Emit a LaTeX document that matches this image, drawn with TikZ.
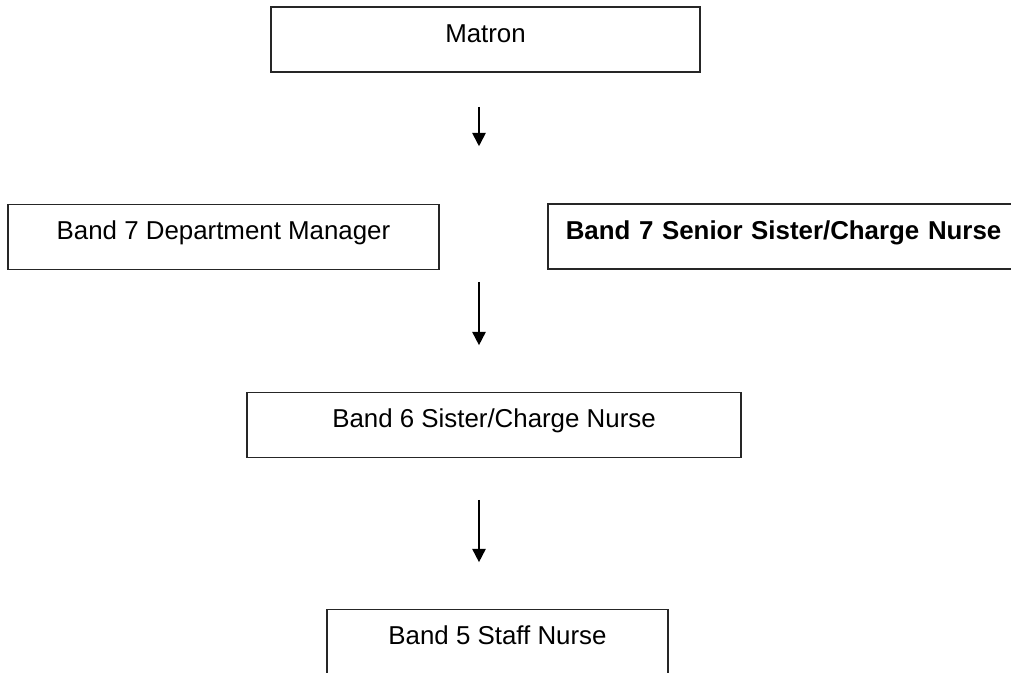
\documentclass[tikz,border=0pt]{standalone}
\usepackage{fontspec}
\setmainfont{Liberation Sans}
\usepackage{tikz}
\usetikzlibrary{arrows.meta}

\tikzset{
  post/.style={shape=rectangle,draw=black!85,line width=1.2pt,inner xsep=0pt,inner ysep=0pt,text height=26.25pt,text depth=22.5pt,font=\fontsize{19.4}{23}\selectfont},
  flow/.style={-{Triangle[length=10pt,width=10pt]},draw=black,line width=1.3pt}
}

\begin{document}
\begin{tikzpicture}[x=0.75pt,y=-0.75pt]
\useasboundingbox (0,0) rectangle (1011,672);
\node[post,minimum width=321.75pt] (0) at (485.5,39.5) {Matron};
\node[post,minimum width=323.25pt] (1) at (223.5,237) {Band 7 Department Manager};
\node[post,anchor=west,inner xsep=13.5pt,text width=360pt,align=left,font=\fontsize{19.4}{23}\selectfont\bfseries] (2) at (547,236.5) {Band 7 Senior Sister/Charge Nurse};
\node[post,minimum width=370.5pt] (3) at (494,425) {Band 6 Sister/Charge Nurse};
\node[post,minimum width=255.75pt] (4) at (497.5,642) {Band 5 Staff Nurse};

\coordinate (a) at (479,0);
\draw [flow,shorten <=25.5pt,shorten >=43.1pt] (0.south -| a) -- (a |- 1.north);
\draw [flow,shorten <=8.6pt,shorten >=34.9pt] (a |- 1.south) -- (a |- 3.north);
\draw [flow,shorten <=31.1pt,shorten >=34.9pt] (a |- 3.south) -- (a |- 4.north);
\end{tikzpicture}
\end{document}
